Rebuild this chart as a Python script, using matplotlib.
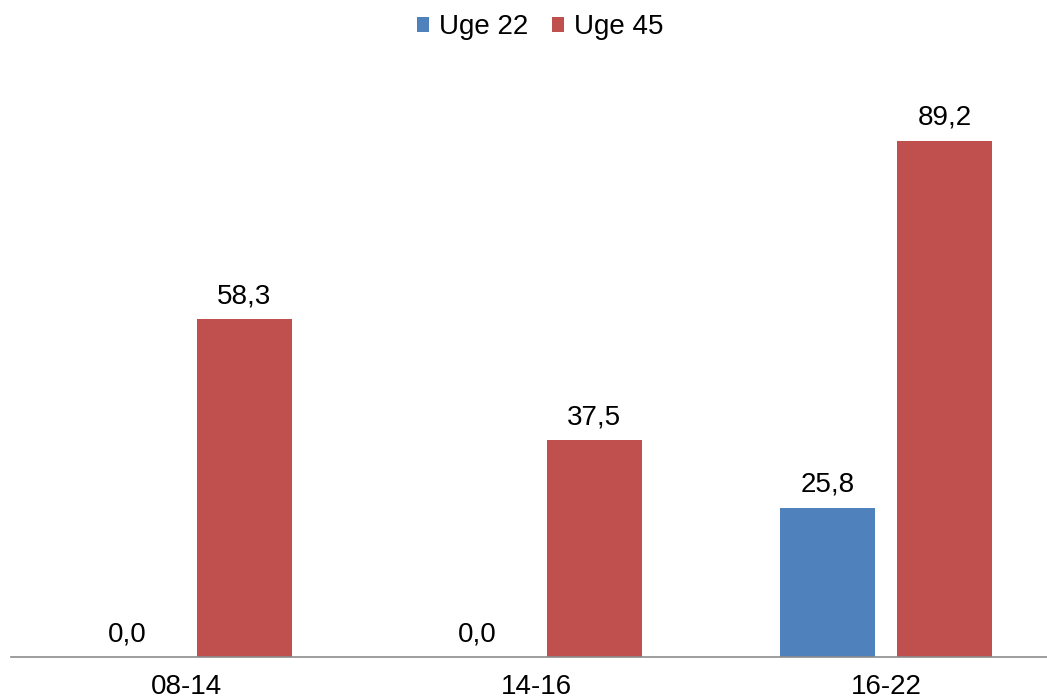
import matplotlib
matplotlib.use("Agg")
import matplotlib.pyplot as plt
import numpy as np

categories = ["08-14", "14-16", "16-22"]
uge22 = [0.0, 0.0, 25.8]
uge45 = [58.3, 37.5, 89.2]
series_names = ["Uge 22", "Uge 45"]
colors = ["#4F81BD", "#C0504D"]

plt.rcParams["font.family"] = ["Liberation Sans", "DejaVu Sans"]

W, H = 1047, 699
fig = plt.figure(figsize=(W / 100, H / 100), dpi=100)
ax = fig.add_axes([11 / W, 42 / H, 1 - 11 / W, 579 / H])

x = np.arange(len(categories))
bw = 0.27
gap = 0.064
off = (bw + gap) / 2
b1 = ax.bar(x - off, uge22, bw, color=colors[0], label=series_names[0])
b2 = ax.bar(x + off, uge45, bw, color=colors[1], label=series_names[1])

for bars, vals in ((b1, uge22), (b2, uge45)):
    for rect, v in zip(bars, vals):
        ax.annotate(f"{v:.1f}".replace(".", ","),
                    (rect.get_x() + rect.get_width() / 2, v),
                    xytext=(0, 7), textcoords="offset points",
                    ha="center", va="bottom", fontsize=20, color="#000000")

ax.set_xlim(-0.5, (W - 186) / 350)
ax.set_ylim(0, 100)
ax.set_xticks(x)
ax.set_xticklabels(categories, fontsize=20)
ax.tick_params(axis="x", length=0, pad=12)
ax.set_yticks([])
for s in ("top", "right", "left"):
    ax.spines[s].set_visible(False)
ax.spines["bottom"].set_color("#8C8C8C")
ax.spines["bottom"].set_linewidth(1.2)

fig.legend(loc="upper center", bbox_to_anchor=(540 / W, 1 - 6 / H), ncol=2,
           frameon=False, fontsize=20, handlelength=0.45, handleheight=0.45,
           handletextpad=0.35, columnspacing=0.85, borderaxespad=0.0,
           borderpad=0.3)

fig.savefig("out.png", dpi=100)
